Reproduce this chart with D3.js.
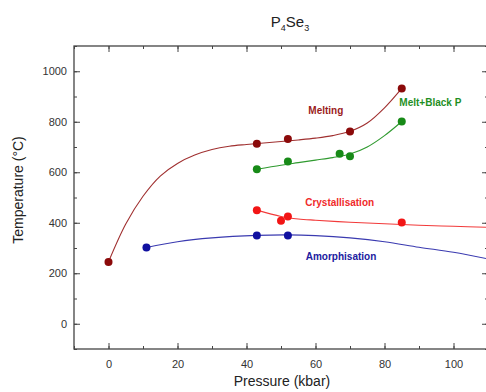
<!DOCTYPE html>
<meta charset="utf-8">
<style>
  body { margin: 0; background: #fff; }
  svg { display: block; font-family: Arial, "Liberation Sans", sans-serif; }
  .axis path, .axis line { stroke: #444; }
  .axis text { fill: #333; font-size: 11px; }
  .lbl { font-size: 10px; font-weight: bold; }
</style>
<body>
<script src="https://d3js.org/d3.v7.min.js"></script>
<script>
  // measured points (pressure kbar, temperature C)
  var meltP = [0, 43, 52, 70, 85]
  var meltT = [245, 713, 732, 761, 932]
  var blackP = [43, 52, 67, 70, 85]
  var blackT = [612, 643, 673, 663, 801]
  var crystP = [43, 50, 52, 85]
  var crystT = [450, 408, 425, 401]
  var amorP = [11, 43, 52]
  var amorT = [302, 350, 350]

  // fitted curves
  var meltFitP = [0, 5, 10, 15, 20, 25, 30, 35, 40, 45, 50, 55, 60, 65, 70, 75, 80, 85]
  var meltFitT = [245, 395, 505, 585, 635, 668, 690, 703, 710, 716, 722, 728, 735, 745, 762, 795, 855, 932]
  var blackFitP = [43, 50, 55, 60, 65, 70, 75, 80, 85]
  var blackFitT = [612, 628, 638, 648, 658, 672, 700, 745, 801]
  var crystFitP = [43, 50, 55, 60, 70, 80, 90, 100, 110]
  var crystFitT = [450, 425, 415, 410, 402, 396, 390, 386, 382]
  var amorFitP = [11, 20, 30, 43, 52, 60, 70, 80, 90, 100, 110]
  var amorFitT = [302, 325, 340, 350, 352, 349, 340, 325, 303, 283, 257]

  var xTicks = [0, 20, 40, 60, 80, 100]
  var yTicks = [0, 200, 400, 600, 800, 1000]

  var width = 486, height = 392
  var margin = { left: 74, top: 46, right: 488, bottom: 349 }

  var x = d3.scaleLinear().domain([-10, 110]).range([margin.left, margin.right])
  var y = d3.scaleLinear().domain([-100, 1100]).range([margin.bottom, margin.top])

  var svg = d3.select('body').append('svg')
    .attr('width', width)
    .attr('height', height)

  // frame
  svg.append('rect')
    .attr('x', margin.left).attr('y', margin.top)
    .attr('width', margin.right - margin.left).attr('height', margin.bottom - margin.top)
    .attr('fill', 'none').attr('stroke', '#444').attr('stroke-width', 1.3)

  var minorX = d3.range(-10, 111, 10)
  var minorY = d3.range(-100, 1101, 100)

  function addAxis(axisFn, scale, vals, minor, tr, labels) {
    var g = svg.append('g').attr('class', 'axis').attr('transform', tr)
    g.call(axisFn(scale).tickValues(minor).tickSize(-3).tickFormat(''))
    g.select('.domain').remove()
    var g2 = svg.append('g').attr('class', 'axis').attr('transform', tr)
    g2.call(axisFn(scale).tickValues(vals).tickSize(-6)
      .tickPadding(labels ? (axisFn === d3.axisBottom ? 11 : 7) : 3)
      .tickFormat(labels ? d3.format('d') : ''))
    g2.select('.domain').remove()
  }
  addAxis(d3.axisBottom, x, xTicks, minorX, 'translate(0,' + margin.bottom + ')', true)
  addAxis(d3.axisTop, x, xTicks, minorX, 'translate(0,' + margin.top + ')', false)
  addAxis(d3.axisLeft, y, yTicks, minorY, 'translate(' + margin.left + ',0)', true)
  addAxis(d3.axisRight, y, yTicks, minorY, 'translate(' + margin.right + ',0)', false)

  var series = [
    { p: meltP, t: meltT, fp: meltFitP, ft: meltFitT, dot: '#8b0a0a', line: '#a03030' },
    { p: blackP, t: blackT, fp: blackFitP, ft: blackFitT, dot: '#178a17', line: '#2f9a2f' },
    { p: crystP, t: crystT, fp: crystFitP, ft: crystFitT, dot: '#f21515', line: '#f23a3a' },
    { p: amorP, t: amorT, fp: amorFitP, ft: amorFitT, dot: '#1010a0', line: '#3a3ab0' }
  ]

  var line = d3.line()
    .x(function (d) { return x(d[0]) })
    .y(function (d) { return y(d[1]) })
    .curve(d3.curveCatmullRom.alpha(0.5))

  series.forEach(function (s) {
    svg.append('path')
      .datum(d3.zip(s.fp, s.ft))
      .attr('d', line)
      .attr('fill', 'none')
      .attr('stroke', s.line)
      .attr('stroke-width', 1.1)
  })

  series.forEach(function (s) {
    svg.append('g').selectAll('circle')
      .data(d3.zip(s.p, s.t))
      .enter().append('circle')
      .attr('cx', function (d) { return x(d[0]) })
      .attr('cy', function (d) { return y(d[1]) })
      .attr('r', 4)
      .attr('fill', s.dot)
  })

  // series labels
  var labels = [
    { text: 'Melting', px: 63, t: 832, color: '#9b1c1c', anchor: 'middle' },
    { text: 'Melt+Black P', px: 84.3, t: 864, color: '#1f8f1f', anchor: 'start' },
    { text: 'Crystallisation', px: 67, t: 465, color: '#f02a2a', anchor: 'middle' },
    { text: 'Amorphisation', px: 67.4, t: 252, color: '#2020a0', anchor: 'middle' }
  ]
  svg.selectAll('.lbl')
    .data(labels)
    .enter().append('text')
    .attr('class', 'lbl')
    .attr('x', function (d) { return x(d.px) })
    .attr('y', function (d) { return y(d.t) })
    .attr('text-anchor', function (d) { return d.anchor })
    .attr('fill', function (d) { return d.color })
    .text(function (d) { return d.text })

  // title with subscripts
  var title = svg.append('text')
    .attr('x', 290).attr('y', 27)
    .attr('text-anchor', 'middle')
    .attr('font-size', 15).attr('fill', '#222')
  title.append('tspan').text('P')
  title.append('tspan').text('4').attr('font-size', 9).attr('dy', 4)
  title.append('tspan').text('Se').attr('dy', -4)
  title.append('tspan').text('3').attr('font-size', 9).attr('dy', 4)

  svg.append('text')
    .attr('x', 282).attr('y', 386)
    .attr('text-anchor', 'middle')
    .attr('font-size', 14).attr('fill', '#222')
    .text('Pressure (kbar)')

  svg.append('text')
    .attr('transform', 'translate(23,190) rotate(-90)')
    .attr('text-anchor', 'middle')
    .attr('font-size', 14).attr('fill', '#222')
    .text('Temperature (°C)')
</script>
</body>
